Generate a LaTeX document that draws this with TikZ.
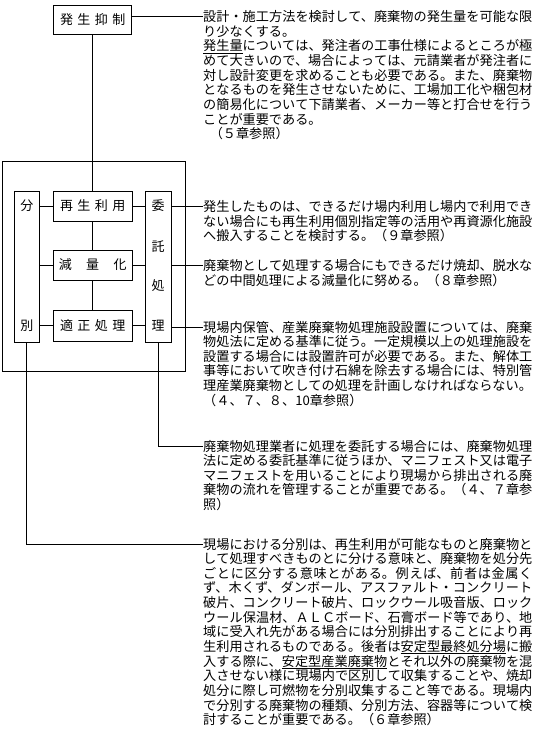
\documentclass[tikz,border=0pt]{standalone}
\usepackage{fontspec}
\setmainfont{Noto Sans CJK JP}
\XeTeXlinebreaklocale "ja"
\XeTeXlinebreakskip=0pt plus 1pt
\usetikzlibrary{calc}
\newsavebox\myulbox
\newcommand\myul[1]{\leavevmode\sbox\myulbox{#1}\rlap{\smash{\rule[-2.4pt]{\wd\myulbox}{0.6pt}}}#1}
\newcommand\kk{\kern4.5pt}
\tikzset{
  frame/.style={draw, line width=0.8pt, inner sep=0pt},
  lbl/.style={inner sep=0pt, font=\fontsize{13}{13}\selectfont},
  desc/.style={anchor=base west, inner sep=0pt, text width=329.2pt, align=justify,
    font=\fontsize{13.15}{14.65}\selectfont,
    execute at begin node={\tolerance=10000\hbadness=10000}},
  conn/.style={line width=0.8pt}
}
\begin{document}
\begin{tikzpicture}[x=1pt,y=-1pt]
\fill[white] (0,0) rectangle (535,732);
\useasboundingbox (0,0) rectangle (535,732);

% boxes
\node[frame, lbl, minimum width=78pt, minimum height=29pt] (hs) at (92.75,19.5) {発\kk 生\kk 抑\kk 制};
\node[frame, minimum width=183pt, minimum height=210pt] (outer) at (93.5,266) {};
\node[frame, minimum width=25pt, minimum height=151pt] (bb) at (26.75,266.5) {};
\node[frame, minimum width=26pt, minimum height=151pt] (it) at (158,266.5) {};
\node[frame, lbl, minimum width=79pt, minimum height=30pt] (ri) at (92.75,206) {再\kk 生\kk 利\kk 用};
\node[frame, lbl, minimum width=79pt, minimum height=30pt] (gr) at (92.75,265) {減\kern14.5pt 量\kern14.5pt 化};
\node[frame, lbl, minimum width=79pt, minimum height=31pt] (tk) at (92.75,325.5) {適\kk 正\kk 処\kk 理};

% vertical labels
\node[lbl] (bb1) at (26.75,206) {分};
\node[lbl] (bb2) at (26.75,325.5) {別};
\node[lbl] (it1) at (158,206) {委};
\node[lbl] (it2) at (158,246.5) {託};
\node[lbl] (it3) at (158,286) {処};
\node[lbl] (it4) at (158,325.5) {理};

% text anchors
\coordinate (c1) at (203,16.5);
\coordinate (c2) at (203,206.5);
\coordinate (c3) at (203,265.5);
\coordinate (c4) at (203,327);
\coordinate (c5) at (203,446);
\coordinate (c6) at (203,544);

% connectors
\draw[conn] (hs.east |- c1) -- (c1);
\draw[conn] (hs.south) -- (ri.north);
\draw[conn] (ri.south) -- (gr.north);
\draw[conn] (gr.south) -- (tk.north);
\draw[conn] (bb.east |- ri) -- (ri.west);
\draw[conn] (bb.east |- gr) -- (gr.west);
\draw[conn] (bb.east |- tk) -- (tk.west);
\draw[conn] (ri.east) -- (it.west |- ri);
\draw[conn] (gr.east) -- (it.west |- gr);
\draw[conn] (tk.east) -- (it.west |- tk);
\draw[conn] (it.east |- c2) -- (c2);
\draw[conn] (it.east |- c3) -- (c3);
\draw[conn] (it.east |- c4) -- (c4);
\draw[conn] (it.south) |- (c5);
\draw[conn] (bb.south) |- (c6);

% texts
\node[desc] (t1) at ($(c1)+(0,5)$) {%
設計・施工方法を検討して、廃棄物の発生量を可能な限\linebreak
り少なくする。\par
\myul{発生量}については、発注者の工事仕様によるところが極\linebreak
めて大きいので、場合によっては、元請業者が発注者に\linebreak
対し設計変更を求めることも必要である。また、廃棄物\linebreak
となるものを発生させないために、工場加工化や梱包材\linebreak
の簡易化について下請業者、メーカー等と打合せを行う\linebreak
ことが重要である。\par
\hspace*{0.5em}（５章参照）};

\node[desc] (t2) at ($(c2)+(0,5)$) {%
発生したものは、できるだけ場内利用し場内で利用でき\linebreak
ない場合にも再生利用個別指定等の活用や再資源化施設\linebreak
へ搬入することを検討する。（９章参照）};

\node[desc] (t3) at ($(c3)+(0,5)$) {%
廃棄物として処理する場合にもできるだけ焼却、脱水な\linebreak
どの中間処理による減量化に努める。（８章参照）};

\node[desc] (t4) at ($(c4)+(0,5)$) {%
現場内保管、産業廃棄物処理施設設置については、廃棄\linebreak
物処法に定める基準に従う。一定規模以上の処理施設を\linebreak
設置する場合には設置許可が必要である。また、解体工\linebreak
事等において吹き付け石綿を除去する場合には、特別管\linebreak
理産業廃棄物としての処理を計画しなければならない。\par
（４、７、８、10章参照）};

\node[desc] (t5) at ($(c5)+(0,5)$) {%
廃棄物処理業者に処理を委託する場合には、廃棄物処理\linebreak
法に定める委託基準に従うほか、マニフェスト又は電子\linebreak
マニフェストを用いることにより現場から排出される廃\linebreak
棄物の流れを管理することが重要である。（４、７章参\linebreak
照）};

\node[desc] (t6) at ($(c6)+(0,5)$) {%
現場における分別は、再生利用が可能なものと廃棄物と\linebreak
して処理すべきものとに分ける意味と、廃棄物を処分先\linebreak
ごとに区分する意味とがある。例えば、前者は金属く\linebreak
ず、木くず、ダンボール、アスファルト・コンクリート\linebreak
破片、コンクリート破片、ロックウール吸音版、ロック\linebreak
ウール保温材、ＡＬＣボード、石膏ボード等であり、地\linebreak
域に受入れ先がある場合には分別排出することにより再\linebreak
生利用されるものである。後者は\myul{安定型最終処分場}に搬\linebreak
入する際に、\myul{安定型産業廃棄物}とそれ以外の廃棄物を混\linebreak
入させない様に現場内で区別して収集することや、焼却\linebreak
処分に際し可燃物を分別収集すること等である。現場内\linebreak
で分別する廃棄物の種類、分別方法、容器等について検\linebreak
討することが重要である。（６章参照）};
\end{tikzpicture}
\end{document}
